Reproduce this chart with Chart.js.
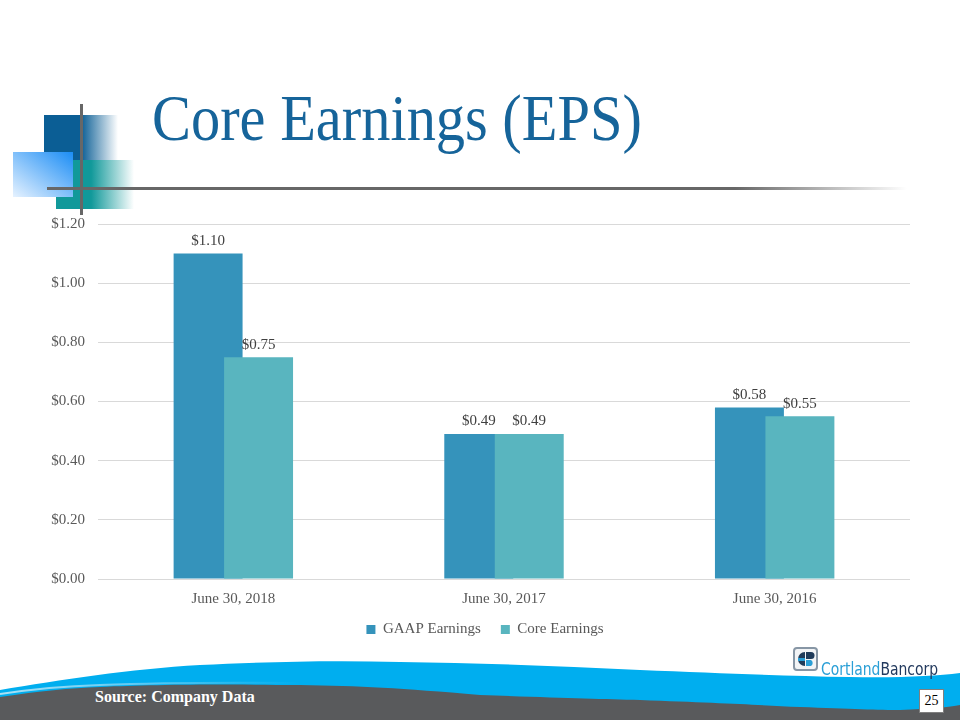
<!DOCTYPE html>
<html>
<head>
<meta charset="utf-8">
<script src="https://cdn.jsdelivr.net/npm/chart.js@4.4.1/dist/chart.umd.min.js"></script>
<style>
  html, body { margin:0; padding:0; background:#fff; }
  body { width:960px; height:720px; position:relative; overflow:hidden; font-family:'Liberation Serif', serif; }
  #title { position:absolute; left:152px; top:85px; font-size:66px; line-height:66px; color:#16649a; white-space:nowrap; transform-origin:0 0; transform:scaleX(0.885); }
  #chartWrap { position:absolute; left:0; top:202px; width:960px; height:466px; }
  #source { position:absolute; left:95px; top:688px; color:#fff; font-weight:bold; font-size:16px; }
  #page { position:absolute; left:919px; top:689px; width:25px; height:24px; background:#fff; border:1px solid #7f7f7f; box-sizing:border-box; font-size:14px; text-align:center; line-height:22px; color:#000; }
  #logoText { position:absolute; left:821px; top:659px; font-family:'DejaVu Sans Condensed','DejaVu Sans',sans-serif; font-size:17px; line-height:20px; white-space:nowrap; transform-origin:0 0; transform:scaleX(0.91); }
</style>
</head>
<body>
<svg width="960" height="720" style="position:absolute;left:0;top:0">
  <defs>
    <linearGradient id="gDark" x1="0" y1="0" x2="1" y2="0">
      <stop offset="0" stop-color="#0b5e95"/>
      <stop offset="0.5" stop-color="#0b5e95"/>
      <stop offset="1" stop-color="#0b5e95" stop-opacity="0"/>
    </linearGradient>
    <linearGradient id="gTeal" x1="0" y1="0" x2="1" y2="0">
      <stop offset="0" stop-color="#11999a"/>
      <stop offset="0.45" stop-color="#11999a"/>
      <stop offset="1" stop-color="#11999a" stop-opacity="0"/>
    </linearGradient>
    <linearGradient id="gLight" x1="0" y1="1" x2="1" y2="0">
      <stop offset="0" stop-color="#e6f2ff"/>
      <stop offset="1" stop-color="#1b8df5"/>
    </linearGradient>
    <linearGradient id="gLine" x1="0" y1="0" x2="1" y2="0">
      <stop offset="0" stop-color="#676767"/>
      <stop offset="0.8" stop-color="#676767"/>
      <stop offset="1" stop-color="#676767" stop-opacity="0"/>
    </linearGradient>
    <linearGradient id="gShine" x1="0" y1="0" x2="1" y2="0">
      <stop offset="0" stop-color="#bfe6f5" stop-opacity="0.9"/>
      <stop offset="1" stop-color="#bfe6f5" stop-opacity="0"/>
    </linearGradient>
  </defs>
  <rect x="44" y="115" width="74" height="45" fill="url(#gDark)"/>
  <rect x="56" y="160" width="78" height="49" fill="url(#gTeal)"/>
  <rect x="13" y="152" width="60" height="45" fill="url(#gLight)"/>
  <rect x="80" y="104" width="3" height="111" fill="#676767"/>
  <rect x="47" y="187" width="860" height="3" fill="url(#gLine)"/>
  <path d="M0,690 C60,680 130,669 200,665 C260,662 330,660 400,662 C480,663 560,666 640,670 C720,673 780,676 850,677 C900,678 935,676 960,673 L960,720 L0,720 Z" fill="#00aeef"/>
  <path d="M0,697 C40,691 70,688 100,687 C150,685 200,684 300,685 C360,686 400,688 480,695 C560,698 600,699 640,700 C720,703 760,705 800,707 C850,709 880,710 900,710 C930,709 950,707 960,705 L960,720 L0,720 Z" fill="#595a5c"/>
  <path d="M0,694 C40,688 70,686 100,685 C150,683 200,682 300,683" stroke="url(#gShine)" stroke-width="2" fill="none"/>
  <g>
    <rect x="794" y="648" width="23" height="22" rx="3" fill="#f2f4f6" stroke="#8796a5" stroke-width="2"/>
    <path d="M805,652 A7,7 0 0 0 805,666 Z" fill="#1f3b5a"/>
    <path d="M806,652 L811,652 A3.5,3.5 0 0 1 811,659 L806,659 Z" fill="#1f3b5a"/>
    <path d="M806,660 L811,660 A3.5,3.5 0 0 1 811,666 L806,666 Z" fill="#2a9fd6"/>
    <path d="M798,658 L805,658 L805,661 L798,661 Z" fill="#2a9fd6"/>
  </g>
</svg>
<div id="title">Core Earnings (EPS)</div>
<div id="chartWrap"><canvas id="c"></canvas></div>
<div id="logoText"><span style="color:#2a9fd6">Cortland</span><span style="color:#233a5e">Bancorp</span></div>
<div id="source">Source: Company Data</div>
<div id="page">25</div>
<script>
const categories = ['June 30, 2018', 'June 30, 2017', 'June 30, 2016'];
const gaapEarnings = [1.10, 0.49, 0.58];
const coreEarnings = [0.75, 0.49, 0.55];
const seriesNames = ['GAAP Earnings', 'Core Earnings'];
const yMin = 0, yMax = 1.2, yStep = 0.2;

const serif = 'Liberation Serif';

// Draw GAAP first, then Core on top (as in the reference overlap)
const drawOrder = {
  id: 'drawOrder',
  beforeDatasetDraw(chart, args) {
    if (args.index === 1 && !chart.$drawingLate) return false;
  },
  afterDatasetDraw(chart, args) {
    if (args.index === 0) {
      chart.$drawingLate = true;
      chart.getDatasetMeta(1).controller.draw();
      chart.$drawingLate = false;
    }
  }
};

// Nudge the legend closer to the axis labels and toward the slide centre
const legendShift = {
  id: 'legendShift',
  afterLayout(chart) {
    const lg = chart.legend;
    if (!lg) return;
    lg.top -= 17; lg.bottom -= 17;
    lg.left += 30; lg.right += 30;
  }
};

const valueLabels = {
  id: 'valueLabels',
  afterDatasetsDraw(chart) {
    const ctx = chart.ctx;
    ctx.save();
    ctx.font = '15px "' + serif + '"';
    ctx.fillStyle = '#404040';
    ctx.textAlign = 'center';
    ctx.textBaseline = 'bottom';
    chart.data.datasets.forEach((ds, di) => {
      const meta = chart.getDatasetMeta(di);
      meta.data.forEach((el, i) => {
        ctx.fillText('$' + ds.data[i].toFixed(2), el.x, el.y - 5);
      });
    });
    ctx.restore();
  }
};

new Chart(document.getElementById('c'), {
  type: 'bar',
  data: {
    labels: categories,
    datasets: [
      { label: seriesNames[0], data: gaapEarnings, backgroundColor: '#3593bb', barPercentage: 1.366, categoryPercentage: 0.373 },
      { label: seriesNames[1], data: coreEarnings, backgroundColor: '#59b5bf', barPercentage: 1.366, categoryPercentage: 0.373 }
    ]
  },
  options: {
    responsive: true,
    maintainAspectRatio: false,
    animation: false,
    layout: { padding: { top: 15, right: 50, bottom: 4, left: 0 } },
    plugins: {
      legend: {
        position: 'bottom',
        labels: { boxWidth: 9, boxHeight: 9, padding: 20, color: '#595959', font: { family: serif, size: 15 } }
      },
      tooltip: { enabled: false }
    },
    scales: {
      x: {
        grid: { display: false, drawTicks: false },
        border: { display: false },
        ticks: { color: '#595959', font: { family: serif, size: 15 }, padding: 11 }
      },
      y: {
        min: yMin, max: yMax,
        grid: { color: '#d9d9d9', lineWidth: 1, drawTicks: false },
        border: { display: false },
        ticks: {
          stepSize: yStep, color: '#595959', font: { family: serif, size: 15 }, padding: 13,
          callback: v => '$' + Number(v).toFixed(2)
        },
        afterFit(scale) { scale.width = 98; }
      }
    }
  },
  plugins: [drawOrder, legendShift, valueLabels]
});
</script>
</body>
</html>
